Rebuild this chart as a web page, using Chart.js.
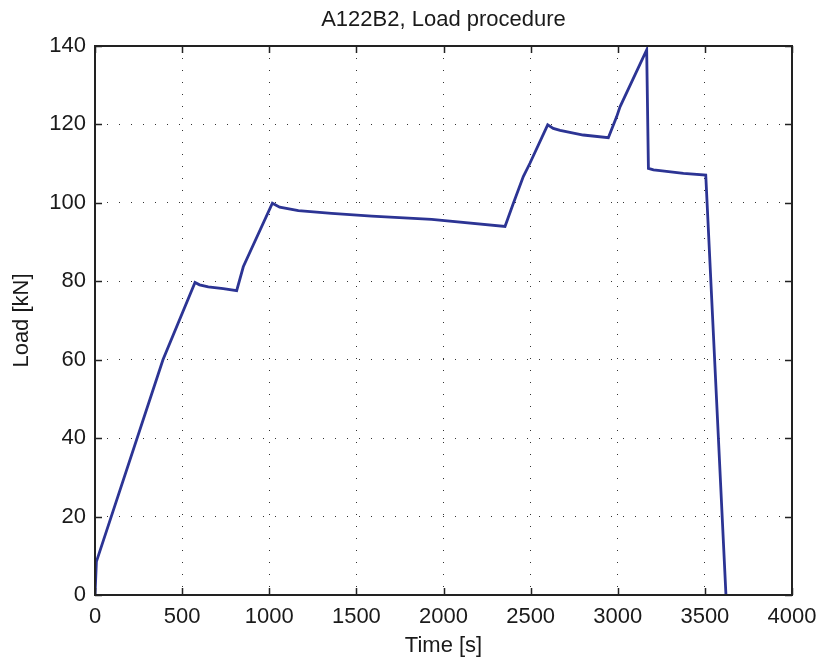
<!DOCTYPE html>
<html>
<head>
<meta charset="utf-8">
<script src="https://cdn.jsdelivr.net/npm/chart.js@4/dist/chart.umd.min.js"></script>
<style>
  html, body { margin: 0; padding: 0; background: #fff; }
  #wrap { width: 820px; height: 662px; }
</style>
</head>
<body>
<div id="wrap"><canvas id="load-chart" width="820" height="662"></canvas></div>
<script>
// A122B2 - Lastverlauf
const timeS = [0, 8, 390, 574, 600, 650, 736, 813, 851, 1018, 1060, 1167, 1358, 1588, 1932, 2353,
               2401, 2458, 2496, 2598, 2630, 2669, 2802, 2946, 2994, 3013, 3166, 3176, 3205, 3243, 3377, 3505, 3621];
const loadKN = [0, 8.5, 60, 79.7, 79.1, 78.6, 78.1, 77.6, 83.7, 99.9, 98.9, 98.0, 97.3, 96.6, 95.8, 94.0,
                99.9, 106.7, 110.1, 119.9, 119.0, 118.5, 117.3, 116.6, 122, 124.5, 139, 108.8, 108.4, 108.2, 107.5, 107.1, 0];
const xTicks = [0, 500, 1000, 1500, 2000, 2500, 3000, 3500, 4000];
const yTicks = [0, 20, 40, 60, 80, 100, 120, 140];

const chartTitle = 'A122B2, Load procedure';
const xLabel = 'Time [s]';
const yLabel = 'Load [kN]';

const FONT = '"Liberation Sans", Arial, Helvetica, sans-serif';
const TEXT = '#1a1a1a';

// Rahmen, Innen-Ticks und Titel wie in MATLAB
const boxPlugin = {
    id: 'box',
    afterDraw(chart) {
        const { ctx, chartArea: a, scales } = chart;
        ctx.save();
        ctx.strokeStyle = '#222';
        ctx.lineWidth = 1.5;
        ctx.beginPath();
        xTicks.forEach(v => {
            const px = Math.round(scales.x.getPixelForValue(v)) + 0.5;
            ctx.moveTo(px, a.bottom); ctx.lineTo(px, a.bottom - 7);
            ctx.moveTo(px, a.top); ctx.lineTo(px, a.top + 7);
        });
        yTicks.forEach(v => {
            const py = Math.round(scales.y.getPixelForValue(v)) + 0.5;
            ctx.moveTo(a.left, py); ctx.lineTo(a.left + 7, py);
            ctx.moveTo(a.right, py); ctx.lineTo(a.right - 7, py);
        });
        ctx.stroke();
        ctx.lineWidth = 2;
        ctx.strokeRect(a.left, a.top, a.right - a.left, a.bottom - a.top);
        ctx.fillStyle = TEXT;
        ctx.font = '22px ' + FONT;
        ctx.textAlign = 'center';
        ctx.textBaseline = 'middle';
        ctx.fillText(chartTitle, (a.left + a.right) / 2, 20);
        ctx.restore();
    }
};

const ctx = document.getElementById('load-chart').getContext('2d');
new Chart(ctx, {
    type: 'line',
    data: {
        datasets: [{
            data: timeS.map((t, i) => ({ x: t, y: loadKN[i] })),
            borderColor: '#2c3494',
            borderWidth: 2.8,
            pointRadius: 0,
            tension: 0,
            fill: false
        }]
    },
    options: {
        responsive: false,
        animation: false,
        layout: { padding: { top: 46, right: 28, left: 0, bottom: 0 } },
        plugins: {
            legend: { display: false },
            tooltip: { enabled: false }
        },
        scales: {
            x: {
                type: 'linear',
                min: 0,
                max: 4000,
                afterFit: s => { s.height = 67; s.paddingLeft = 0; s.paddingRight = 0; },
                afterBuildTicks: s => { s.ticks = xTicks.map(v => ({ value: v })); },
                ticks: { padding: 9, color: TEXT, font: { family: FONT, size: 22 }, maxRotation: 0,
                         callback: v => String(v) },
                grid: { drawTicks: false, color: '#333', lineWidth: 1 },
                border: { display: false, dash: [1, 11] },
                title: { display: true, text: xLabel, color: TEXT, font: { family: FONT, size: 22 }, padding: { top: 0, bottom: 3 } }
            },
            y: {
                min: 0,
                max: 140,
                afterFit: s => { s.width = 95; s.paddingTop = 0; s.paddingBottom = 0; },
                afterBuildTicks: s => { s.ticks = yTicks.map(v => ({ value: v })); },
                ticks: { padding: 9, color: TEXT, font: { family: FONT, size: 22 },
                         callback: v => String(v) },
                grid: { drawTicks: false, color: '#333', lineWidth: 1 },
                border: { display: false, dash: [1, 11] },
                title: { display: true, text: yLabel, color: TEXT, font: { family: FONT, size: 22 }, padding: { top: 9, bottom: 0 } }
            }
        }
    },
    plugins: [boxPlugin]
});
</script>
</body>
</html>
